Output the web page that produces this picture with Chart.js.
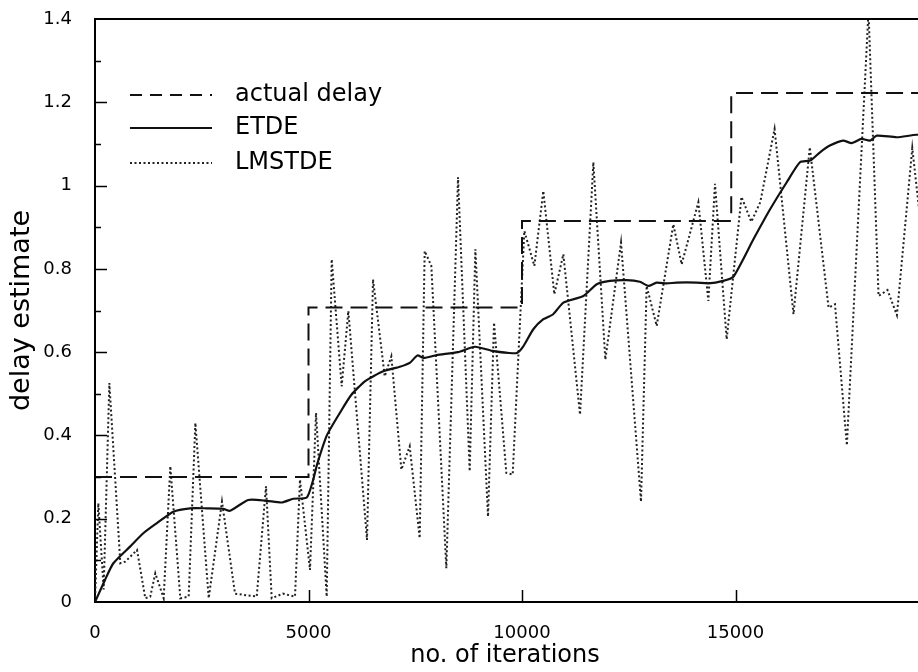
<!DOCTYPE html>
<html>
<head>
<meta charset="utf-8">
<script src="https://cdn.jsdelivr.net/npm/chart.js@4.4.1/dist/chart.umd.min.js"></script>
<style>
  html, body { margin: 0; padding: 0; background: #fff; overflow: hidden; }
  #wrap { width: 918px; height: 672px; overflow: hidden; }
</style>
</head>
<body>
<div id="wrap"><canvas id="chart" width="960" height="672"></canvas></div>
<script>
// actual delay (step changes)
const delayIter = [0, 5000, 10000, 14900, 20000];
const delayVal = [0.3, 0.707, 0.915, 1.222, 1.222];

// ETDE estimate
const etdeIter = [0, 234, 430, 820, 1131, 1444, 1834, 2225, 2615, 3005, 3161, 3590, 4020, 4372, 4645, 4960,
  5100, 5200, 5430, 5740, 6000, 6320, 6750, 7140, 7380, 7550, 7700, 8000, 8500, 8900, 9300, 9700, 9880,
  10030, 10265, 10500, 10730, 10970, 11440, 11750, 12060, 12450, 12760, 12960, 13150, 13390, 13620, 14090,
  14360, 14710, 14950, 15420, 15810, 16200, 16510, 16750, 16980, 17210, 17520, 17720, 17950, 18150, 18310,
  18780, 19240, 19800];
const etdeVal = [0, 0.053, 0.093, 0.133, 0.165, 0.189, 0.217, 0.225, 0.225, 0.224, 0.219, 0.245, 0.243, 0.239, 0.248, 0.251,
  0.29, 0.33, 0.40, 0.455, 0.497, 0.530, 0.554, 0.565, 0.575, 0.592, 0.586, 0.593, 0.600, 0.613, 0.603, 0.598, 0.598,
  0.614, 0.655, 0.679, 0.691, 0.719, 0.735, 0.763, 0.771, 0.773, 0.769, 0.759, 0.767, 0.765, 0.767, 0.767,
  0.765, 0.771, 0.781, 0.871, 0.943, 1.008, 1.056, 1.060, 1.080, 1.096, 1.108, 1.102, 1.112, 1.108, 1.120,
  1.116, 1.122, 1.12];

// LMSTDE estimate
const lmsIter = [0, 78, 203, 336, 593, 710, 984, 1178, 1295, 1412, 1608, 1764, 1998, 2194, 2350, 2663, 2974,
  3279, 3787, 4005, 4138, 4400, 4684, 4801, 5035, 5176, 5426, 5543, 5777, 5933, 6370, 6511, 6785, 6940,
  7175, 7370, 7604, 7721, 7877, 8228, 8502, 8775, 8908, 9204, 9345, 9633, 9782, 10055, 10289, 10499,
  10757, 10968, 11359, 11671, 11952, 12319, 12787, 12919, 13154, 13544, 13739, 14130, 14364, 14520,
  14793, 15140, 15370, 15580, 15915, 16358, 16740, 17180, 17330, 17608, 18115, 18350, 18560, 18780,
  19140, 19400];
const lmsVal = [0, 0.237, 0.03, 0.526, 0.093, 0.097, 0.125, 0.009, 0.013, 0.069, 0.009, 0.326, 0.009, 0.013, 0.43, 0.009, 0.241,
  0.02, 0.013, 0.278, 0.009, 0.02, 0.013, 0.294, 0.077, 0.454, 0.013, 0.823, 0.518, 0.699, 0.149, 0.775, 0.542, 0.590,
  0.318, 0.374, 0.153, 0.843, 0.807, 0.081, 1.020, 0.314, 0.847, 0.205, 0.671, 0.310, 0.306, 0.891, 0.807, 0.987,
  0.739, 0.835, 0.450, 1.056, 0.582, 0.863, 0.241, 0.759, 0.663, 0.907, 0.811, 0.960, 0.723, 1.004,
  0.631, 0.973, 0.913, 0.960, 1.136, 0.691, 1.092, 0.707, 0.715, 0.376, 1.42, 0.735, 0.749, 0.689,
  1.090, 0.85];

const xTicks = [0, 5000, 10000, 15000];
const yTicks = [0, 0.2, 0.4, 0.6, 0.8, 1, 1.2, 1.4];

const FONT = "'DejaVu Sans', Verdana, sans-serif";

function pts(xs, ys) { return xs.map((x, i) => ({ x, y: ys[i] })); }

// inward ticks, top frame, x title and the inset legend
const decorPlugin = {
  id: 'decor',
  afterDraw(chart) {
    const { ctx, chartArea: a, scales: { x, y } } = chart;
    ctx.save();
    ctx.strokeStyle = '#000';
    ctx.lineWidth = 2;
    ctx.beginPath();
    ctx.moveTo(a.left, a.top);
    ctx.lineTo(a.right, a.top);
    ctx.stroke();

    ctx.lineWidth = 1.5;
    ctx.beginPath();
    for (let v = 0.1; v < 1.4; v += 0.1) {
      const py = Math.round(y.getPixelForValue(v)) + 0.5;
      const major = Math.abs(v * 5 - Math.round(v * 5)) < 1e-6;
      ctx.moveTo(a.left, py);
      ctx.lineTo(a.left + (major ? 12 : 6), py);
    }
    xTicks.slice(1).forEach(v => {
      const px = Math.round(x.getPixelForValue(v)) + 0.5;
      ctx.moveTo(px, a.bottom);
      ctx.lineTo(px, a.bottom - 12);
    });
    ctx.stroke();

    ctx.fillStyle = '#000';
    ctx.textBaseline = 'middle';
    ctx.textAlign = 'center';
    ctx.font = '24px ' + FONT;
    ctx.fillText('no. of iterations', 505, 656);

    // legend
    ctx.textAlign = 'left';
    const ys = [95, 128, 163];
    chart.data.datasets.forEach((ds, i) => {
      ctx.beginPath();
      ctx.strokeStyle = ds.borderColor;
      ctx.lineWidth = ds.borderWidth;
      ctx.setLineDash(i === 0 ? [12, 8] : (ds.borderDash || []));
      ctx.moveTo(130, ys[i]);
      ctx.lineTo(212, ys[i]);
      ctx.stroke();
      ctx.setLineDash([]);
      ctx.fillText(ds.label, 235, ys[i]);
    });
    ctx.restore();
  }
};

new Chart(document.getElementById('chart'), {
  type: 'line',
  data: {
    datasets: [
      {
        label: 'actual delay',
        data: pts(delayIter, delayVal),
        stepped: 'before',
        borderColor: '#111',
        borderWidth: 2,
        borderDash: [17, 8],
        pointRadius: 0,
        fill: false
      },
      {
        label: 'ETDE',
        data: pts(etdeIter, etdeVal),
        borderColor: '#111',
        borderWidth: 2.2,
        pointRadius: 0,
        tension: 0.2,
        fill: false
      },
      {
        label: 'LMSTDE',
        data: pts(lmsIter, lmsVal),
        borderColor: '#222',
        borderWidth: 2,
        borderDash: [2, 2.5],
        pointRadius: 0,
        fill: false
      }
    ]
  },
  options: {
    responsive: false,
    animation: false,
    devicePixelRatio: 1,
    layout: { padding: { top: 19, right: 11, left: 0, bottom: 0 } },
    plugins: { legend: { display: false }, tooltip: { enabled: false } },
    scales: {
      x: {
        type: 'linear',
        min: 0,
        max: 20000,
        afterFit: s => { s.height = 70; s.paddingLeft = 0; s.paddingRight = 0; },
        afterBuildTicks: s => { s.ticks = xTicks.map(v => ({ value: v })); },
        grid: { display: false, drawTicks: false },
        border: { display: true, color: '#000', width: 2 },
        ticks: { color: '#000', font: { family: FONT, size: 18 }, padding: 21, maxRotation: 0, callback: v => String(v) },
        title: { display: false }
      },
      y: {
        min: 0,
        max: 1.4,
        afterFit: s => { s.width = 95; s.paddingTop = 0; s.paddingBottom = 0; },
        afterBuildTicks: s => { s.ticks = yTicks.map(v => ({ value: v })); },
        grid: { display: false, drawTicks: false },
        border: { display: true, color: '#000', width: 2 },
        ticks: { color: '#000', font: { family: FONT, size: 18 }, padding: 23, callback: v => String(v) },
        title: { display: true, text: 'delay estimate', color: '#000', font: { family: FONT, size: 27 }, padding: { top: 6, bottom: 0 } }
      }
    }
  },
  plugins: [decorPlugin]
});
</script>
</body>
</html>
